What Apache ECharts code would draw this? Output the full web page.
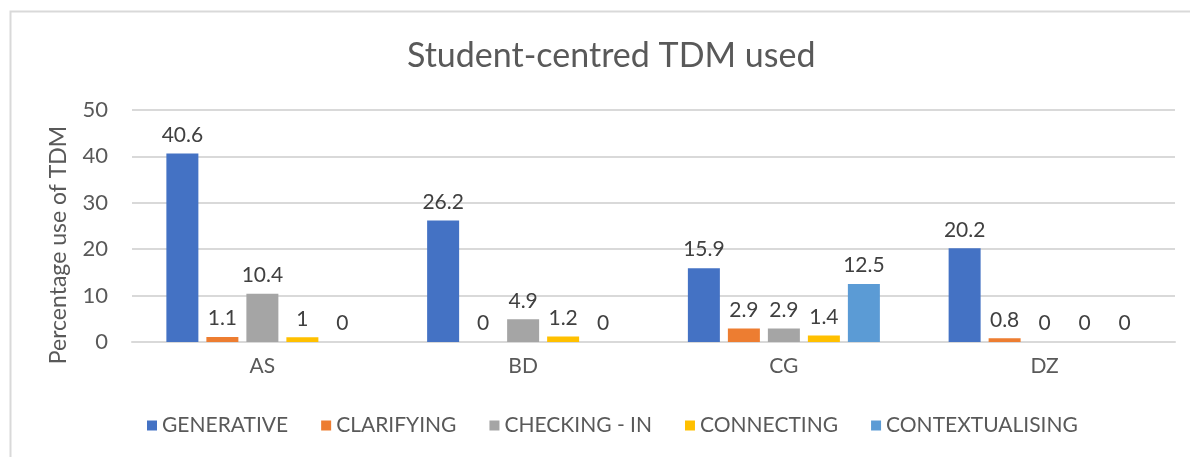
<!DOCTYPE html>
<html>
<head>
<meta charset="utf-8">
<script src="https://cdn.jsdelivr.net/npm/echarts@6/dist/echarts.min.js"></script>
<style>
  html, body { margin: 0; padding: 0; background: #fff; }
  #main { width: 1190px; height: 457px; }
</style>
</head>
<body>
<div id="main"></div>
<script>
var categories = ['AS', 'BD', 'CG', 'DZ'];
var seriesNames = ['GENERATIVE', 'CLARIFYING', 'CHECKING - IN', 'CONNECTING', 'CONTEXTUALISING'];
var generative = [40.6, 26.2, 15.9, 20.2];
var clarifying = [1.1, 0, 2.9, 0.8];
var checkingIn = [10.4, 4.9, 2.9, 0];
var connecting = [1, 1.2, 1.4, 0];
var contextualising = [0, 0, 12.5, 0];
var yTicks = [0, 10, 20, 30, 40, 50];

var colors = ['#4472C4', '#ED7D31', '#A5A5A5', '#FFC000', '#5B9BD5'];
var values = [generative, clarifying, checkingIn, connecting, contextualising];
var font = 'Lato, Carlito, "Open Sans", sans-serif';

var myChart = echarts.init(document.getElementById('main'));

var series = [];
for (var i = 0; i < seriesNames.length; i++) {
    series.push({
        name: seriesNames[i],
        type: 'bar',
        data: values[i],
        barWidth: 32,
        barGap: '25%',
        itemStyle: { color: colors[i] },
        label: {
            show: true,
            position: 'top',
            distance: 8,
            color: '#404040',
            fontSize: 21,
            fontFamily: font
        }
    });
}

myChart.setOption({
    color: colors,
    animation: false,
    graphic: [{
        type: 'rect',
        shape: { x: 10.5, y: 11.5, width: 1300, height: 600 },
        style: { fill: null, stroke: '#d9d9d9', lineWidth: 2 },
        silent: true
    }],
    title: {
        text: 'Student-centred TDM used',
        left: 402,
        top: 34,
        textStyle: {
            color: '#595959',
            fontSize: 34,
            fontWeight: 'normal',
            fontFamily: font
        }
    },
    legend: {
        bottom: 16,
        left: 142,
        icon: 'rect',
        itemWidth: 10,
        itemHeight: 10,
        itemGap: 33,
        textStyle: { color: '#595959', fontSize: 21, fontFamily: font }
    },
    grid: { left: 132, right: 15, top: 110, bottom: 115 },
    xAxis: {
        type: 'category',
        data: categories,
        axisLine: { lineStyle: { color: '#d9d9d9', width: 2 } },
        axisTick: { show: false },
        axisLabel: { color: '#595959', fontSize: 21, fontFamily: font, margin: 14 }
    },
    yAxis: {
        type: 'value',
        min: yTicks[0],
        max: yTicks[yTicks.length - 1],
        interval: 10,
        name: 'Percentage use of TDM',
        nameLocation: 'middle',
        nameGap: 62,
        nameTextStyle: { color: '#595959', fontSize: 23, fontFamily: font, padding: [0, 38, 0, 0] },
        axisLine: { show: false },
        axisTick: { show: false },
        axisLabel: { color: '#595959', fontSize: 22, fontFamily: font, margin: 24 },
        splitLine: { lineStyle: { color: '#d9d9d9', width: 2 } }
    },
    series: series
});
</script>
</body>
</html>
